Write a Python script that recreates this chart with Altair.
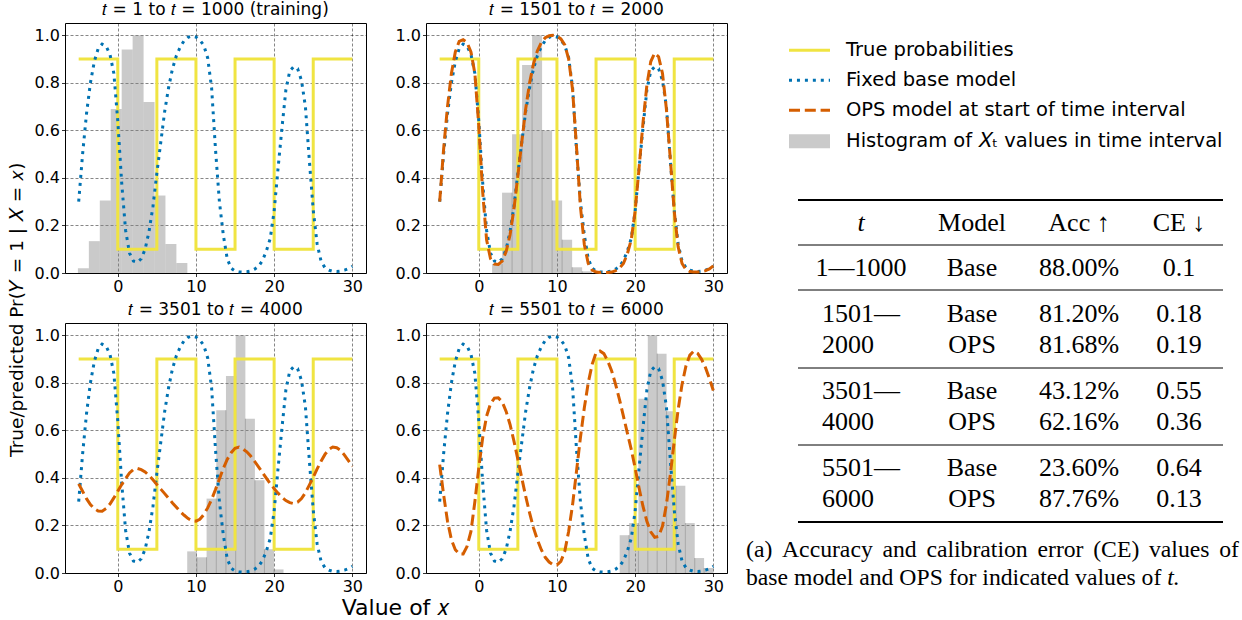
import altair as alt
import numpy as np
import pandas as pd

# ------------------------------------------------------------------ data
curve_x = np.arange(-5.0, 30.01, 0.5)   # sampling grid of the model curves

true_x = [-5, 0, 0, 5, 5, 10, 10, 15, 15, 20, 20, 25, 25, 30]
true_p = [0.9, 0.9, 0.1, 0.1, 0.9, 0.9, 0.1, 0.1, 0.9, 0.9, 0.1, 0.1, 0.9, 0.9]

base_model = [0.30, 0.50, 0.67, 0.80, 0.89, 0.945, 0.963, 0.955, 0.92, 0.84,
              0.64, 0.38, 0.18, 0.084, 0.05, 0.045, 0.06, 0.10, 0.175, 0.28,
              0.42, 0.55, 0.68, 0.78, 0.86, 0.915, 0.952, 0.978, 0.992, 0.997,
              0.993, 0.98, 0.958, 0.905, 0.78, 0.52, 0.30, 0.16, 0.06, 0.02,
              0.008, 0.005, 0.004, 0.005, 0.008, 0.016, 0.028, 0.052, 0.092, 0.145,
              0.26, 0.44, 0.61, 0.77, 0.85, 0.868, 0.86, 0.81, 0.70, 0.475,
              0.265, 0.122, 0.05, 0.022, 0.012, 0.007, 0.006, 0.008, 0.012, 0.018,
              0.028]

ops_1501 = [0.30, 0.52, 0.70, 0.84, 0.93, 0.975, 0.982, 0.97, 0.93, 0.84,
            0.62, 0.34, 0.14, 0.06, 0.038, 0.036, 0.05, 0.09, 0.16, 0.27,
            0.41, 0.55, 0.69, 0.80, 0.88, 0.935, 0.97, 0.99, 0.998, 1.0,
            0.997, 0.985, 0.96, 0.90, 0.77, 0.53, 0.28, 0.12, 0.04, 0.012,
            0.004, 0.002, 0.002, 0.002, 0.004, 0.01, 0.02, 0.04, 0.08, 0.14,
            0.26, 0.44, 0.63, 0.79, 0.89, 0.925, 0.91, 0.84, 0.69, 0.48,
            0.26, 0.11, 0.04, 0.014, 0.006, 0.004, 0.004, 0.006, 0.01, 0.017,
            0.03]

ops_3501 = [0.375, 0.344, 0.313, 0.288, 0.271, 0.261, 0.26, 0.271, 0.29, 0.316,
            0.344, 0.372, 0.397, 0.421, 0.435, 0.44, 0.435, 0.425, 0.41, 0.392,
            0.372, 0.353, 0.334, 0.315, 0.295, 0.277, 0.258, 0.243, 0.229, 0.22,
            0.218, 0.226, 0.246, 0.274, 0.309, 0.351, 0.396, 0.44, 0.478, 0.506,
            0.525, 0.53, 0.522, 0.51, 0.492, 0.47, 0.447, 0.423, 0.399, 0.376,
            0.355, 0.336, 0.319, 0.305, 0.296, 0.292, 0.298, 0.313, 0.338, 0.37,
            0.403, 0.438, 0.47, 0.499, 0.52, 0.53, 0.527, 0.516, 0.496, 0.473,
            0.449]

ops_5501 = [0.456, 0.33, 0.218, 0.14, 0.098, 0.08, 0.08, 0.112, 0.175, 0.30,
            0.442, 0.569, 0.66, 0.712, 0.736, 0.737, 0.72, 0.68, 0.625, 0.555,
            0.478, 0.40, 0.323, 0.253, 0.19, 0.14, 0.098, 0.066, 0.046, 0.035,
            0.034, 0.049, 0.091, 0.176, 0.288, 0.428, 0.569, 0.695, 0.80, 0.878,
            0.927, 0.934, 0.923, 0.892, 0.85, 0.794, 0.73, 0.66, 0.59, 0.52,
            0.442, 0.358, 0.281, 0.218, 0.173, 0.15, 0.154, 0.197, 0.288, 0.414,
            0.555, 0.688, 0.794, 0.871, 0.917, 0.934, 0.924, 0.899, 0.864, 0.819,
            0.768]

hist_edges_1 = [-5.1, -3.7, -2.3, -0.9, 0.5, 1.9, 3.3, 4.7, 6.1, 7.5, 8.9]
hist_heights_1 = [0.02, 0.134, 0.305, 0.69, 0.94, 1.0, 0.72, 0.326, 0.122, 0.042]
hist_edges_2 = [1.70, 2.98, 4.26, 5.54, 6.82, 8.1, 9.38, 10.66, 11.94, 13.22, 14.5]
hist_heights_2 = [0.038, 0.338, 0.584, 0.875, 1.0, 0.60, 0.305, 0.14, 0.024, 0.007]
hist_edges_3 = [8.88, 10.12, 11.36, 12.6, 13.84, 15.08, 16.32, 17.54, 18.76, 19.98, 21.2]
hist_heights_3 = [0.091, 0.066, 0.313, 0.685, 0.829, 1.0, 0.649, 0.39, 0.10, 0.015]
hist_edges_4 = [18.02, 19.22, 20.42, 21.62, 22.82, 24.02, 25.22, 26.42, 27.62, 28.82, 30.02]
hist_heights_4 = [0.159, 0.21, 0.733, 1.0, 0.923, 0.681, 0.367, 0.21, 0.063, 0.021]

panel_titles = ["𝑡 = 1 to 𝑡 = 1000 (training)", "𝑡 = 1501 to 𝑡 = 2000",
                "𝑡 = 3501 to 𝑡 = 4000", "𝑡 = 5501 to 𝑡 = 6000"]
x_title = "Value of 𝑥"
y_title = "True/predicted Pr(𝑌 = 1 | 𝑋 = 𝑥)"

legend_labels = ["True probabilities", "Fixed base model",
                 "OPS model at start of time interval",
                 "Histogram of 𝑋ₜ values in time interval"]

table_header = ["t", "Model", "Acc ↑", "CE ↓"]
table_t = ["1—1000", "1501—2000", "3501—4000", "5501—6000"]
table_models = [["Base"], ["Base", "OPS"], ["Base", "OPS"], ["Base", "OPS"]]
table_acc = [["88.00%"], ["81.20%", "81.68%"], ["43.12%", "62.16%"], ["23.60%", "87.76%"]]
table_ce = [["0.1"], ["0.18", "0.19"], ["0.55", "0.36"], ["0.64", "0.13"]]
caption_lines = ["(a) Accuracy and calibration error (CE) values of",
                 "base model and OPS for indicated values of _t."]   # _ marks italic word

# ------------------------------------------------------------------ styles
SANS = "DejaVu Sans"
SERIF = "Liberation Serif"
YELLOW, BLUE, ORANGE = "#F0E442", "#0072B2", "#D55E00"
HIST_GRAY = "#808080"
DOT = [3, 4.95]
DASH = [11, 4.8]

xs = alt.Scale(domain=[-6.75, 31.75], nice=False, zero=False)
ys = alt.Scale(domain=[0, 1.052], nice=False, zero=False)
xax = alt.Axis(values=[0, 10, 20, 30], format="d", title=None)
yax = alt.Axis(values=[0, 0.2, 0.4, 0.6, 0.8, 1.0], format=".1f", title=None)

curves = pd.DataFrame({"x": curve_x, "base": base_model, "ops1501": ops_1501,
                       "ops3501": ops_3501, "ops5501": ops_5501})
true_df = pd.DataFrame({"x": true_x, "p": true_p, "i": range(len(true_x))})


def panel(title, edges, heights, ops_col=None, edge_lines=True):
    hdf = pd.DataFrame({"x0": edges[:-1], "x1": edges[1:], "h": heights})
    layers = [alt.Chart(hdf).mark_rect(color=HIST_GRAY, opacity=0.42).encode(
        x=alt.X("x0:Q", scale=xs, axis=xax), x2="x1:Q",
        y=alt.Y("h:Q", scale=ys, axis=yax), y2=alt.datum(0))]
    if edge_lines:
        edf = pd.DataFrame({"x": edges[1:-1],
                            "top": [min(a, b) for a, b in zip(heights[:-1], heights[1:])]})
        layers.append(alt.Chart(edf).mark_rule(color="#9c9c9c", strokeWidth=0.8).encode(
            x=alt.X("x:Q", scale=xs, axis=xax),
            y=alt.Y("top:Q", scale=ys, axis=yax), y2=alt.datum(0)))
    layers.append(alt.Chart(true_df).mark_line(color=YELLOW, strokeWidth=3).encode(
        x=alt.X("x:Q", scale=xs, axis=xax), y=alt.Y("p:Q", scale=ys, axis=yax),
        order="i:Q"))
    layers.append(alt.Chart(curves).mark_line(color=BLUE, strokeWidth=3, strokeDash=DOT,
                                              strokeCap="butt").encode(
        x=alt.X("x:Q", scale=xs, axis=xax), y=alt.Y("base:Q", scale=ys, axis=yax)))
    if ops_col:
        layers.append(alt.Chart(curves).mark_line(color=ORANGE, strokeWidth=3,
                                                  strokeDash=DASH).encode(
            x=alt.X("x:Q", scale=xs, axis=xax), y=alt.Y(f"{ops_col}:Q", scale=ys, axis=yax)))
    return alt.layer(*layers).properties(
        width=301, height=250,
        title=alt.TitleParams(title, fontSize=17, offset=4))


p1 = panel(panel_titles[0], hist_edges_1, hist_heights_1, None, edge_lines=False)
p2 = panel(panel_titles[1], hist_edges_2, hist_heights_2, "ops1501")
p3 = panel(panel_titles[2], hist_edges_3, hist_heights_3, "ops3501")
p4 = panel(panel_titles[3], hist_edges_4, hist_heights_4, "ops5501")

grid = alt.concat(p1, p2, p3, p4, columns=2).properties(
    spacing=alt.RowColnumber(row=50, column=60), bounds="flush",
    title=alt.TitleParams(x_title, orient="bottom", anchor="middle", fontSize=22,
                          offset=3, dx=15))
left = alt.hconcat(grid).properties(
    title=alt.TitleParams(y_title, orient="left", anchor="middle", fontSize=18.5, offset=7))

# ------------------------------------------------------------------ right column
RW, RH = 500, 585
OX, OY = 740, 22         # absolute origin of the right column
rx = alt.Scale(domain=[0, RW], nice=False, zero=False)
ry = alt.Scale(domain=[0, RH], nice=False, zero=False, reverse=True)


def X(f):
    return alt.X(f, scale=rx, axis=None)


def Y(f):
    return alt.Y(f, scale=ry, axis=None)


def text_layer(df, align, font, size, style="normal"):
    return alt.Chart(df).mark_text(align=align, baseline="middle", font=font, fontSize=size,
                                   fontStyle=style, color="black").encode(
        x=X("x:Q"), y=Y("y:Q"), text="label:N")


# legend
LEG_Y = [49.3, 79.3, 109.3, 140.3]
LEG_X0, LEG_X1, LEG_TX = 790, 831, 847
leg_layers = []
for i, (col, dash) in enumerate([(YELLOW, None), (BLUE, DOT), (ORANGE, DASH)]):
    d = pd.DataFrame({"x": [LEG_X0 - OX], "x2": [LEG_X1 - OX], "y": [LEG_Y[i] - OY]})
    kw = dict(color=col, strokeWidth=3, strokeCap="butt")
    if dash:
        kw["strokeDash"] = dash
    leg_layers.append(alt.Chart(d).mark_rule(**kw).encode(x=X("x:Q"), x2="x2:Q", y=Y("y:Q")))
patch = pd.DataFrame({"x": [LEG_X0 - OX], "x2": [LEG_X1 - OX],
                      "y": [LEG_Y[3] - 7 - OY], "y2": [LEG_Y[3] + 7 - OY]})
leg_layers.append(alt.Chart(patch).mark_rect(color=HIST_GRAY, opacity=0.42).encode(
    x=X("x:Q"), x2="x2:Q", y=Y("y:Q"), y2="y2:Q"))
leg_text = pd.DataFrame({"x": [LEG_TX - OX] * 4, "y": [v - OY for v in LEG_Y],
                         "label": legend_labels})
leg_layers.append(text_layer(leg_text, "left", SANS, 19.5))

# table
RULE_Y = [199, 244, 289, 367, 444, 521]
RULE_W = [2, 1, 1, 1, 1, 2]
TAB_X0, TAB_X1 = 799, 1224
COL_X = [862, 973, 1080, 1180]
T_LEFT = 823
HEAD_Y = 221.5
ROW_PITCH = 31
rules = pd.DataFrame({"y": [v - OY for v in RULE_Y], "w": RULE_W,
                      "x": [TAB_X0 - OX] * 6, "x2": [TAB_X1 - OX] * 6})
tab_layers = [alt.Chart(rules).mark_rule(color="black").encode(
    x=X("x:Q"), x2="x2:Q", y=Y("y:Q"), strokeWidth=alt.StrokeWidth("w:Q", scale=None))]

head = pd.DataFrame({"x": [c - OX for c in COL_X[1:]], "y": [HEAD_Y - OY] * 3,
                     "label": table_header[1:]})
head_t = pd.DataFrame({"x": [COL_X[0] - OX], "y": [HEAD_Y - OY], "label": [table_header[0]]})
center_rows, left_rows = [], []
for g in range(len(table_t)):
    g_center = (RULE_Y[g + 1] + RULE_Y[g + 2]) / 2
    n = len(table_models[g])
    ys_g = [g_center + (k - (n - 1) / 2) * ROW_PITCH for k in range(n)]
    if n == 1:
        center_rows.append((COL_X[0], ys_g[0], table_t[g]))
    else:
        a, b = table_t[g].split("—")
        left_rows.append((T_LEFT, ys_g[0], a + "—"))
        left_rows.append((T_LEFT, ys_g[1], b))
    for k in range(n):
        center_rows.append((COL_X[1], ys_g[k], table_models[g][k]))
        center_rows.append((COL_X[2], ys_g[k], table_acc[g][k]))
        center_rows.append((COL_X[3], ys_g[k], table_ce[g][k]))
cdf = pd.DataFrame([(x - OX, y - OY, s) for x, y, s in center_rows], columns=["x", "y", "label"])
ldf = pd.DataFrame([(x - OX, y - OY, s) for x, y, s in left_rows], columns=["x", "y", "label"])
tab_layers += [text_layer(head, "center", SERIF, 26), text_layer(head_t, "center", SERIF, 26, "italic"),
               text_layer(cdf, "center", SERIF, 26), text_layer(ldf, "left", SERIF, 26)]

# caption: words laid out with Times-metric widths (line 1 justified)
TIMES_W = {" ": 250, "(": 333, ")": 333, ".": 250, "A": 722, "C": 667, "E": 611, "O": 722,
           "P": 556, "S": 556, "a": 444, "b": 500, "c": 444, "d": 500, "e": 444, "f": 333,
           "i": 278, "l": 278, "m": 778, "n": 500, "o": 500, "r": 333, "s": 389, "t": 278,
           "u": 500, "v": 500, "y": 500}
CAP_FS = 23.7
CAP_X = 747
CAP_Y = [549.3, 576.7]
CAP_JUSTIFY = [493, None]
cap_rows = []
for line, y, jw in zip(caption_lines, CAP_Y, CAP_JUSTIFY):
    words = line.split(" ")
    widths = [sum(TIMES_W.get(ch, 500) for ch in w.lstrip("_")) * CAP_FS / 1000 for w in words]
    gap = 0.25 * CAP_FS if jw is None else (jw - sum(widths)) / (len(words) - 1)
    xcur = CAP_X
    for w, wd in zip(words, widths):
        cap_rows.append((xcur - OX, y - OY, w.lstrip("_"), w.startswith("_")))
        xcur += wd + gap
capdf = pd.DataFrame(cap_rows, columns=["x", "y", "label", "it"])
tab_layers += [text_layer(capdf[~capdf["it"]][["x", "y", "label"]], "left", SERIF, CAP_FS),
               text_layer(capdf[capdf["it"]][["x", "y", "label"]], "left", SERIF, CAP_FS, "italic")]

right = alt.layer(*leg_layers, *tab_layers).properties(
    width=RW, height=RH, view=alt.ViewBackground(stroke="transparent"))

chart = alt.hconcat(left, right, spacing=10).properties(
    padding={"left": 8, "top": 0, "right": 0, "bottom": 0}
).configure_view(stroke="black", strokeWidth=1).configure_axis(
    labelFont=SANS, labelFontSize=16, labelColor="black", tickColor="black", tickSize=3.5,
    tickWidth=0.8, labelPadding=2, domain=False, grid=True, gridColor="black",
    gridDash=[3, 2], gridOpacity=0.6, gridWidth=0.8
).configure_title(font=SANS, fontWeight="normal", color="black")

chart.save("out.html", embed_options={"renderer": "svg", "actions": False})
